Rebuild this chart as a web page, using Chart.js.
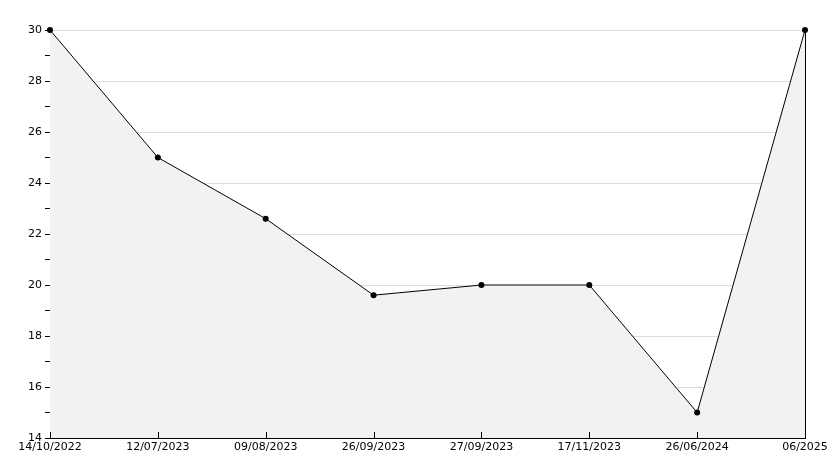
<!DOCTYPE html>
<html>
<head>
<meta charset="utf-8">
<script src="https://cdn.jsdelivr.net/npm/chart.js@4"></script>
<style>
  body { margin: 0; background: #fff; }
  #wrap { width: 834px; height: 468px; }
</style>
</head>
<body>
<div id="wrap"><canvas id="myChart" width="834" height="468"></canvas></div>
<script>
// chart data
const dates = ['14/10/2022', '12/07/2023', '09/08/2023', '26/09/2023', '27/09/2023', '17/11/2023', '26/06/2024', '06/2025'];
const values = [30, 25, 22.6, 19.6, 20, 20, 15, 30];
const yMin = 14;
const yMax = 30;

// ticks on the x axis point up into the plot, and a frame line on the right
const frame = {
    id: 'frame',
    afterDraw(chart) {
        const ctx = chart.ctx;
        const area = chart.chartArea;
        const x = chart.scales.x;
        ctx.save();
        ctx.strokeStyle = '#000';
        ctx.lineWidth = 1;
        ctx.beginPath();
        for (let i = 0; i < dates.length; i++) {
            const px = Math.round(x.getPixelForTick(i)) + 0.5;
            ctx.moveTo(px, area.bottom);
            ctx.lineTo(px, area.bottom - 6);
        }
        ctx.moveTo(Math.round(area.right) + 0.5, area.top);
        ctx.lineTo(Math.round(area.right) + 0.5, area.bottom);
        ctx.stroke();
        ctx.restore();
    }
};

Chart.defaults.font.family = 'DejaVu Sans';
Chart.defaults.font.size = 11;
Chart.defaults.color = '#000';

const ctx = document.getElementById('myChart').getContext('2d');
const myChart = new Chart(ctx, {
    type: 'line',
    data: {
        labels: dates,
        datasets: [{
            data: values,
            fill: 'origin',
            clip: false,
            backgroundColor: '#f2f2f2',
            borderColor: '#000',
            borderWidth: 1,
            tension: 0,
            pointRadius: 3,
            pointBackgroundColor: '#000',
            pointBorderColor: '#000',
            pointBorderWidth: 0
        }]
    },
    options: {
        responsive: false,
        animation: false,
        layout: { padding: { top: 30, right: 29, left: 0, bottom: 0 } },
        plugins: { legend: { display: false }, tooltip: { enabled: false } },
        scales: {
            x: {
                offset: false,
                grid: { display: false, drawTicks: false },
                border: { color: '#000', width: 1 },
                ticks: { padding: 3, maxRotation: 0, autoSkip: false },
                afterFit(scale) { scale.height = 30; }
            },
            y: {
                min: yMin,
                max: yMax,
                ticks: {
                    stepSize: 1,
                    padding: 3,
                    callback: v => (v % 2 === 0 ? v : '')
                },
                grid: {
                    color: c => (c.tick && c.tick.value % 2 === 0 && c.tick.value !== yMin ? '#dddddd' : 'rgba(0,0,0,0)'),
                    tickColor: '#000',
                    tickLength: 5,
                    drawTicks: true
                },
                border: { color: '#000', width: 1 },
                afterFit(scale) { scale.width = 50; }
            }
        }
    },
    plugins: [frame]
});
</script>
</body>
</html>
